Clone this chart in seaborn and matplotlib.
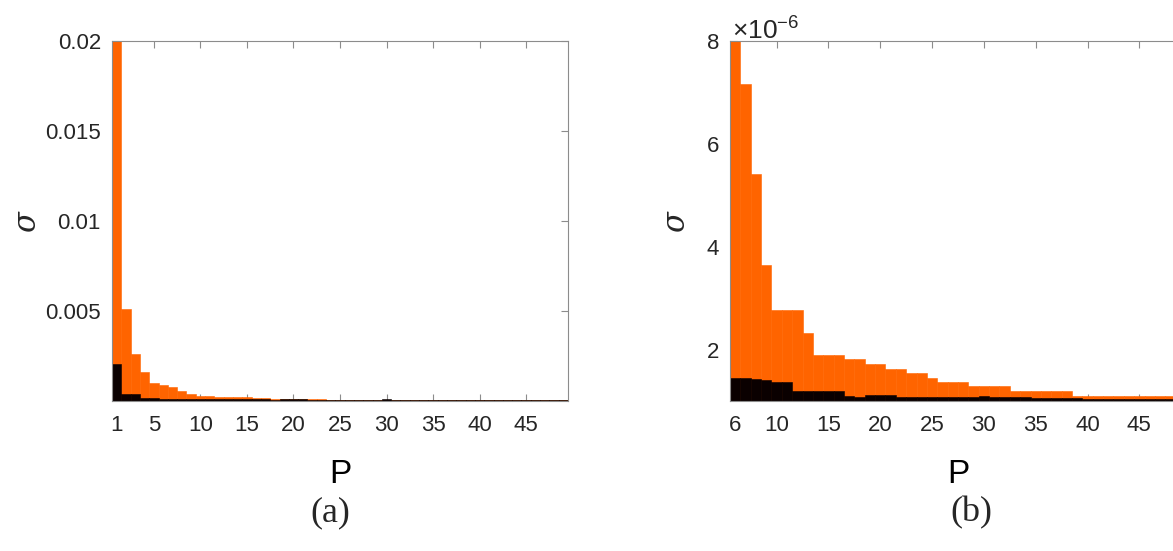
import numpy as np
import pandas as pd
import seaborn as sns
import matplotlib.pyplot as plt

# panel (a): P = 1..49
p_a = list(range(1, 50))
orange_a = [0.0205, 0.0051, 0.0026, 0.0016, 0.00098, 0.00089, 0.00078, 0.00057, 0.00039, 0.00029,
            0.00026, 0.00024, 0.00024, 0.00022, 0.00020, 0.00018, 0.00016, 0.00012, 0.00010, 0.00010,
            0.00010, 0.00009, 0.00009, 0.00008, 0.00007, 0.00006, 0.00006, 0.00006, 0.00006, 0.00006,
            0.00006, 0.00006, 0.00006, 0.00005, 0.00005, 0.00005, 0.00005, 0.00005, 0.00005, 0.00005,
            0.00005, 0.00005, 0.00005, 0.00005, 0.00005, 0.00005, 0.00005, 0.00005, 0.00005]
black_a = [0.00207, 0.00039, 0.00039, 0.00015, 0.00015, 0.0001, 0.0001, 0.0001, 0.0001, 0.0001,
           0.0001, 0.0001, 0.0001, 0.0001, 0.0001, 0.0001, 0.0001, 0.00008, 0.00011, 0.00011,
           0.00011, 0.00003, 0.00003, 0.00003, 0.00003, 0.00003, 0.00003, 0.00003, 0.00003, 0.00009,
           0.00003, 0.00003, 0.00003, 0.00003, 0.00003, 0.00003, 0.00003, 0.00003, 0.00003, 0.00003,
           0.00003, 0.00003, 0.00003, 0.00003, 0.00003, 0.00003, 0.00003, 0.00003, 0.00003]

# panel (b): P = 6..49, sigma in units of 1e-6
p_b = list(range(6, 50))
orange_b = [8.3, 7.16, 5.41, 3.64, 2.77, 2.77, 2.77, 2.33, 1.90, 1.90,
            1.90, 1.81, 1.81, 1.72, 1.72, 1.63, 1.63, 1.54, 1.54, 1.45,
            1.37, 1.37, 1.37, 1.29, 1.29, 1.29, 1.29, 1.20, 1.20, 1.20,
            1.20, 1.20, 1.20, 1.10, 1.10, 1.10, 1.10, 1.10, 1.10, 1.10,
            1.10, 1.10, 1.10, 1.10]
black_b = [1.45, 1.45, 1.42, 1.40, 1.37, 1.37, 1.19, 1.19, 1.19, 1.19,
           1.19, 1.10, 1.08, 1.11, 1.11, 1.11, 1.07, 1.07, 1.07, 1.07,
           1.07, 1.07, 1.07, 1.07, 1.10, 1.07, 1.07, 1.07, 1.07, 1.05,
           1.05, 1.05, 1.05, 1.05, 1.03, 1.03, 1.03, 1.03, 1.03, 1.03,
           1.03, 1.03, 1.03, 1.03]

xticks_a = [1, 5, 10, 15, 20, 25, 30, 35, 40, 45]
xticks_b = [6, 10, 15, 20, 25, 30, 35, 40, 45]
yticks_a = [0.005, 0.01, 0.015, 0.02]
yticks_b = [2, 4, 6, 8]

ORANGE = '#ff6400'
BLACK = '#0a0000'
GREY = '#8c8c8c'

sns.set_theme(style='white')
plt.rcParams['font.family'] = ['Liberation Sans', 'DejaVu Sans']

W, H = 1173, 551
fig = plt.figure(figsize=(W / 100, H / 100), dpi=100)
ax_a = fig.add_axes([112 / W, 150 / H, 456 / W, 360 / H])
ax_b = fig.add_axes([730 / W, 150 / H, 456 / W, 360 / H])


def draw(ax, p, top, bottom):
    df = pd.DataFrame({'P': p, 'top': top, 'bottom': bottom})
    for col, c in (('top', ORANGE), ('bottom', BLACK)):
        sns.barplot(data=df, x='P', y=col, native_scale=True, width=1, color=c,
                    saturation=1, edgecolor=c, linewidth=0.4, errorbar=None, ax=ax)
    for s in ax.spines.values():
        s.set_visible(True)
        s.set_color(GREY)
        s.set_linewidth(0.8)
    ax.tick_params(direction='in', bottom=True, left=True, top=True, right=True,
                   length=5, width=0.8, color=GREY, labelsize=16, labelcolor='#262626')
    ax.tick_params(axis='x', pad=10)
    ax.tick_params(axis='y', pad=8)
    ax.set_ylabel(r'$\sigma$', fontsize=22, math_fontfamily='dejavuserif', color='#262626')
    ax.set_xlabel('P', fontsize=24, va='baseline', color='black',
                  family=['Liberation Sans Narrow', 'Liberation Sans'])


draw(ax_a, p_a, orange_a, black_a)
ax_a.set_xlim(0.5, 49.5)
ax_a.set_ylim(0, 0.02)
ax_a.set_xticks(xticks_a, labels=[str(v) for v in xticks_a])
ax_a.set_yticks(yticks_a, labels=[f'{v:g}' for v in yticks_a])
ax_a.yaxis.set_label_coords((43 - 112) / 456, 0.5)
ax_a.xaxis.set_label_coords(0.5, (401 - 483) / 360)

draw(ax_b, p_b, orange_b, black_b)
ax_b.set_xlim(5.5, 49.5)
ax_b.set_ylim(1, 8)
ax_b.set_xticks(xticks_b, labels=[str(v) for v in xticks_b])
ax_b.set_yticks(yticks_b, labels=[str(v) for v in yticks_b])
ax_b.yaxis.set_label_coords((692 - 730) / 456, 0.5)
ax_b.xaxis.set_label_coords(0.5, (401 - 483) / 360)
ax_b.text(0.005, 0.99, r'$\mathregular{\times10^{-6}}$', transform=ax_b.transAxes,
          ha='left', va='bottom', fontsize=19, color='#262626')

fig.text(330 / W, 1 - 521 / H, '(a)', ha='center', va='baseline', fontsize=26,
         family='Liberation Serif')
fig.text(971 / W, 1 - 521 / H, '(b)', ha='center', va='baseline', fontsize=26,
         family='Liberation Serif')

fig.savefig('out.png', dpi=100)
